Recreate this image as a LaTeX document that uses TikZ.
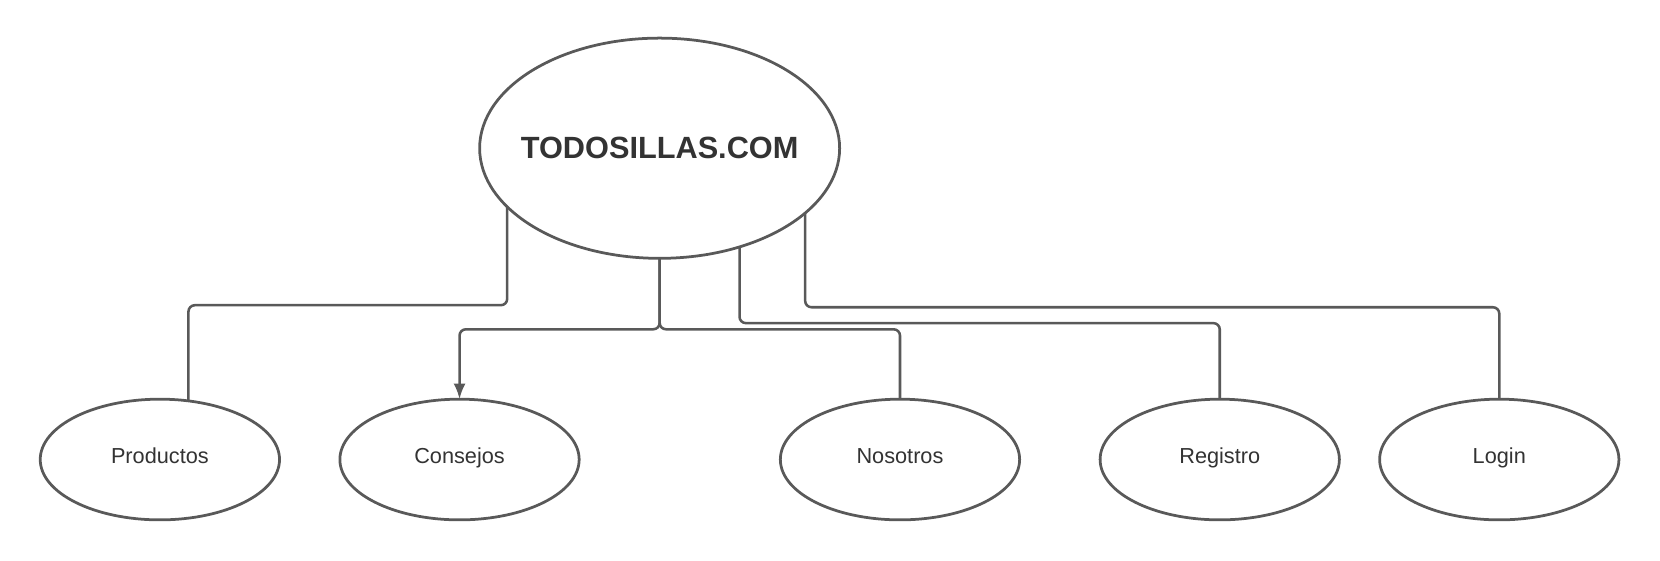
\documentclass[tikz,border=0pt]{standalone}
\usepackage{fontspec}
\setmainfont{Liberation Sans}
\usetikzlibrary{shapes.geometric,arrows.meta}
\newlength{\du}
\setlength{\du}{1.0588pt}
\definecolor{dialinecolor}{rgb}{0.35, 0.35, 0.35}
\definecolor{dialabelcolor}{rgb}{0.20, 0.20, 0.20}

\begin{document}
\begin{tikzpicture}[
  sitio/.style={ellipse, draw=dialinecolor, line width=2.6\du, fill=white,
    outer sep=0pt, inner xsep=-25\du, inner ysep=0pt,
    minimum width=340\du, minimum height=208\du,
    text=dialabelcolor, font=\fontsize{29\du}{34\du}\bfseries},
  pagina/.style={ellipse, draw=dialinecolor, line width=2.6\du, fill=white,
    outer sep=0pt, inner sep=0pt, minimum width=226\du, minimum height=114\du,
    text height=0.72em, text depth=0.02em,
    text=dialabelcolor, font=\fontsize{20.5\du}{24\du}\selectfont},
  enlace/.style={draw=dialinecolor, line width=2.4\du, rounded corners=6\du}
]
\useasboundingbox (0\du,0\du) rectangle (1567.8\du,528.9\du);
% site
\node[sitio] (main) at (623\du,388.9\du) {TODOSILLAS.COM};
% pages
\node[pagina] (prod) at (151\du,94.9\du) {Productos};
\node[pagina] (cons) at (434\du,94.9\du) {Consejos};
\node[pagina] (nos) at (850\du,94.9\du) {Nosotros};
\node[pagina] (reg) at (1152\du,94.9\du) {Registro};
\node[pagina] (login) at (1416\du,94.9\du) {Login};
% links
\draw[enlace] (main.201.5) -- ++(0,-93\du) -| (prod.64);
\draw[enlace, -{Latex[length=15.5pt,width=12pt]}] (main.south) -- ++(0,-67\du) -| (cons.north);
\draw[enlace] (main.south) -- ++(0,-67\du) -| (nos.north);
\draw[enlace] (main.309.3) -- ++(0,-72\du) -| (reg.north);
\draw[enlace] (main.336.3) -- ++(0,-89\du) -| (login.north);
\end{tikzpicture}
\end{document}
